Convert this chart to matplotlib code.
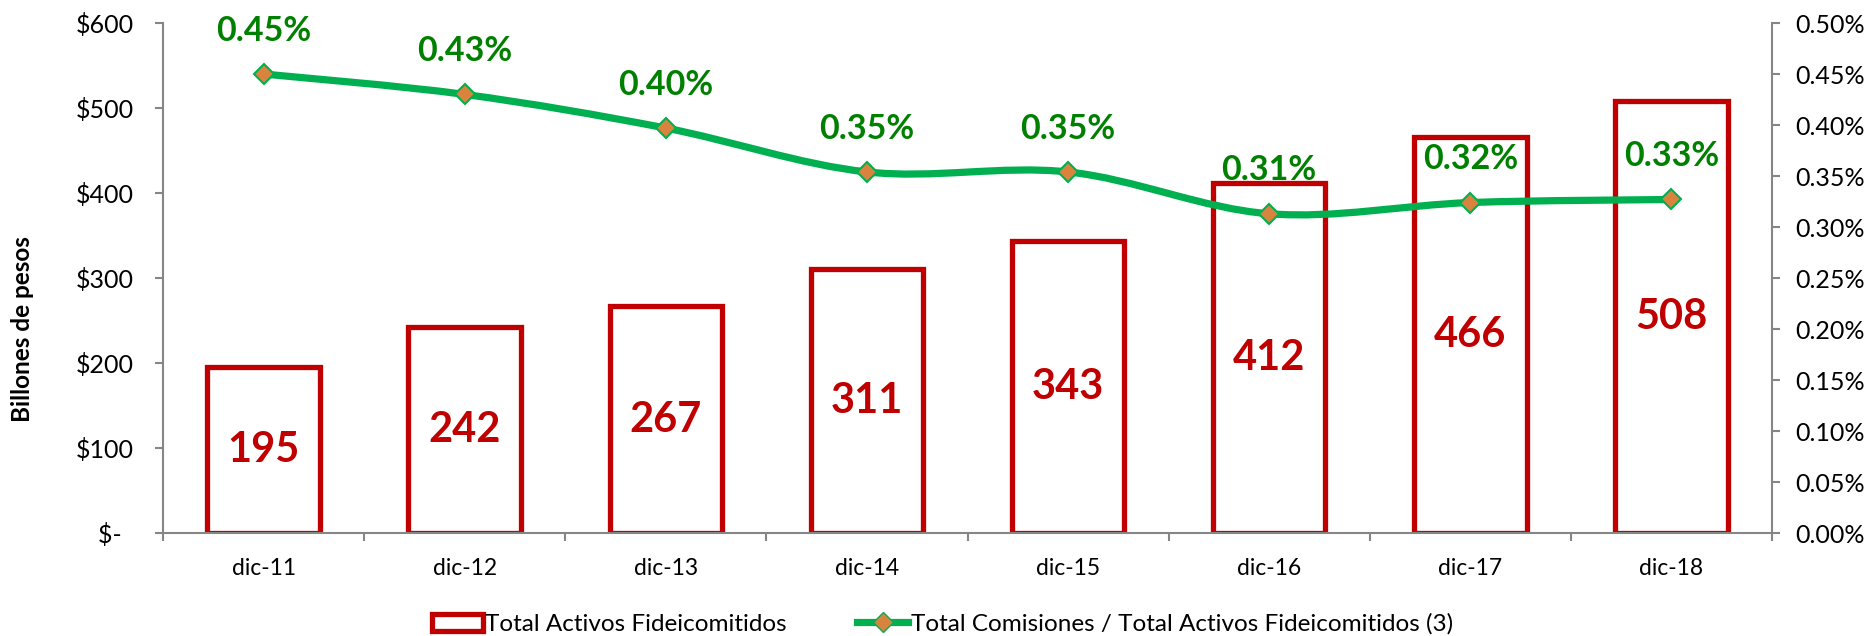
import numpy as np
import matplotlib
matplotlib.use("Agg")
import matplotlib.pyplot as plt
from matplotlib.path import Path
from matplotlib.patches import PathPatch, Patch
from matplotlib.lines import Line2D
from matplotlib.ticker import FixedLocator, FuncFormatter

# data
periods = ["dic-11", "dic-12", "dic-13", "dic-14", "dic-15", "dic-16", "dic-17", "dic-18"]
activos = [195, 242, 267, 311, 343, 412, 466, 508]          # billones de pesos
comision_pct = [0.450, 0.430, 0.397, 0.354, 0.354, 0.313, 0.324, 0.327]  # %

bar_label = "Total Activos Fideicomitidos"
line_label = "Total Comisiones / Total Activos Fideicomitidos (3)"

RED = "#C00000"
GREEN = "#00B050"
TXT_GREEN = "#008000"
ORANGE = "#D8843E"
AXIS_GRAY = "#868686"

plt.rcParams["font.family"] = ["Lato", "DejaVu Sans"]


def smooth_path(xs, ys):
    """Excel-like smoothed line: Catmull-Rom turned into cubic Bezier segments."""
    pts = np.column_stack([xs, ys]).astype(float)
    n = len(pts)
    verts = [pts[0]]
    codes = [Path.MOVETO]
    for i in range(n - 1):
        p0 = pts[i - 1] if i > 0 else pts[i]
        p1 = pts[i]
        p2 = pts[i + 1]
        p3 = pts[i + 2] if i + 2 < n else pts[i + 1]
        c1 = p1 + (p2 - p0) / 6.0
        c2 = p2 - (p3 - p1) / 6.0
        verts += [c1, c2, p2]
        codes += [Path.CURVE4] * 3
    return Path(verts, codes)


fig = plt.figure(figsize=(18.66, 6.36), dpi=100)
ax = fig.add_axes([0.0874, 0.1619, 0.8622, 0.8019])
ax2 = ax.twinx()

x = np.arange(len(periods))

# bars: white with thick red outline
ax.bar(x, activos, width=0.56, facecolor="white", edgecolor=RED, linewidth=3.8, zorder=2)
for xi, v in zip(x, activos):
    ax.text(xi, v / 2, str(v), ha="center", va="center", fontsize=30,
            fontweight="bold", color=RED, zorder=3)

ax.set_xlim(-0.5, len(periods) - 0.5)
ax.set_ylim(0, 600)
ax.set_yticks(range(0, 601, 100))
ax.yaxis.set_major_formatter(FuncFormatter(lambda v, p: "$-  " if v == 0 else f"${v:.0f}"))
ax.set_xticks(x)
ax.set_xticklabels(periods)
ax.xaxis.set_minor_locator(FixedLocator(np.arange(-0.5, len(periods), 1.0)))
ax.tick_params(axis="x", which="major", length=0, pad=18, labelsize=16.5)
ax.tick_params(axis="x", which="minor", length=5.8, width=1.5, color=AXIS_GRAY, direction="out")
ax.tick_params(axis="y", length=5.8, width=1.5, color=AXIS_GRAY, pad=15, labelsize=18)
ax.set_ylabel("Billones de pesos", fontsize=17.5, fontweight="bold", va="center")
ax.yaxis.set_label_coords(-0.0876, 0.40)

# smoothed ratio line on the secondary axis
ax2.set_ylim(0, 0.5)
ax2.set_yticks(np.arange(0, 0.501, 0.05))
ax2.yaxis.set_major_formatter(FuncFormatter(lambda v, p: f"{v:.2f}%"))
ax2.tick_params(axis="y", length=5.8, width=1.5, color=AXIS_GRAY, pad=11, labelsize=18)
ax2.add_patch(PathPatch(smooth_path(x, comision_pct), facecolor="none", edgecolor=GREEN,
                        linewidth=5.2, capstyle="round", zorder=3))
ax2.plot(x, comision_pct, linestyle="none", marker="D", markersize=10,
         markerfacecolor=ORANGE, markeredgecolor=GREEN, markeredgewidth=1.5, zorder=4)
for xi, v in zip(x, comision_pct):
    ax2.annotate(f"{v:.2f}%", (xi, v), xytext=(0, 24), textcoords="offset points",
                 ha="center", va="baseline", fontsize=24.5, fontweight="bold",
                 color=TXT_GREEN, zorder=5)

for a in (ax, ax2):
    a.spines["top"].set_visible(False)
    for s in ("left", "right", "bottom"):
        a.spines[s].set_color(AXIS_GRAY)
        a.spines[s].set_linewidth(1.5)
ax2.spines["left"].set_visible(False)
ax2.spines["bottom"].set_visible(False)
ax.spines["right"].set_visible(False)

handles = [
    Patch(facecolor="white", edgecolor=RED, linewidth=3.8, label=bar_label),
    Line2D([], [], color=GREEN, linewidth=5.2, marker="D", markersize=10,
           markerfacecolor=ORANGE, markeredgecolor=GREEN, label=line_label),
]
fig.legend(handles=handles, loc="center", bbox_to_anchor=(0.505, 0.019), ncol=2,
           frameon=False, fontsize=17.5, handlelength=2.1, handletextpad=0.1,
           columnspacing=2.9, numpoints=1)

fig.savefig("out.png", dpi=100)
